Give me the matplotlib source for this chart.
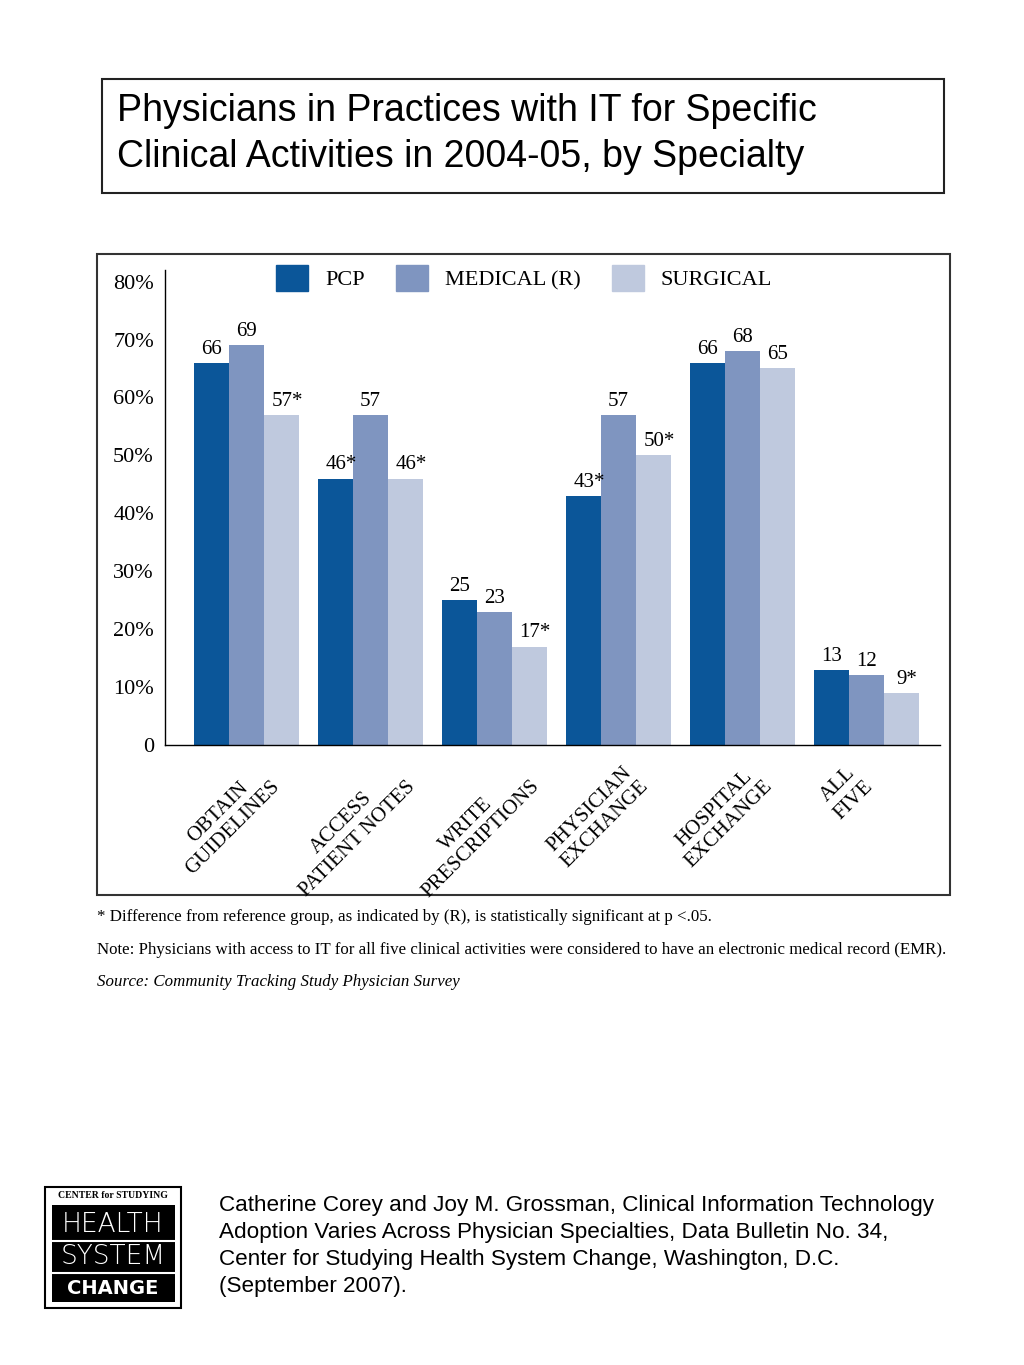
import matplotlib
matplotlib.use("Agg")
import matplotlib.pyplot as plt
from matplotlib.patches import Rectangle, Patch
import numpy as np

# data
categories = ["Obtain\nGuidelines", "Access\nPatient Notes", "Write\nPrescriptions",
              "Physician\nExchange", "Hospital\nExchange", "All\nFive"]
series_names = ["PCP", "MEDICAL (R)", "SURGICAL"]
pcp = [66, 46, 25, 43, 66, 13]
medical = [69, 57, 23, 57, 68, 12]
surgical = [57, 46, 17, 50, 65, 9]
sig_pcp = [False, True, False, True, False, False]
sig_medical = [False, False, False, False, False, False]
sig_surgical = [True, True, True, True, False, True]
yticks = [0, 10, 20, 30, 40, 50, 60, 70, 80]
ytick_labels = ["0", "10%", "20%", "30%", "40%", "50%", "60%", "70%", "80%"]

colors = ["#0b5699", "#7f95c0", "#bfc9de"]
serif = "Liberation Serif"
sans = "Liberation Sans"

W, H = 1024, 1365
fig = plt.figure(figsize=(W / 100, H / 100), dpi=100)

# background axes in pixel coords for boxes, texts, logo
bg = fig.add_axes([0, 0, 1, 1])
bg.set_xlim(0, W)
bg.set_ylim(H, 0)
bg.axis("off")

# title box
bg.add_patch(Rectangle((102, 79), 842, 114, fill=False, ec="#222222", lw=1.5))
bg.text(117, 111, "Physicians in Practices with IT for Specific", family=sans,
        fontsize=27, va="center", ha="left")
bg.text(117, 157, "Clinical Activities in 2004-05, by Specialty", family=sans,
        fontsize=27, va="center", ha="left")

# chart box
bg.add_patch(Rectangle((97, 254), 853, 641, fill=False, ec="#333333", lw=1.5))

# chart axes
ax = fig.add_axes([165 / W, 1 - 745 / H, 775 / W, 475 / H])
ax.set_facecolor("none")
step = 124 / 35
x = np.arange(len(categories)) * step
for j, (vals, sig) in enumerate(zip([pcp, medical, surgical],
                                    [sig_pcp, sig_medical, sig_surgical])):
    ax.bar(x + j, vals, width=1, align="edge", color=colors[j], zorder=2)
    for xi, v, s in zip(x + j + 0.5, vals, sig):
        ax.annotate(f"{v}*" if s else f"{v}", (xi, v), xytext=(4 if s else 0, 3),
                    textcoords="offset points", ha="center", va="bottom",
                    family=serif, fontsize=15)

ax.set_xlim(-0.83, 21.31)
ax.set_ylim(0, 82)
for sp in ["top", "right"]:
    ax.spines[sp].set_visible(False)
ax.spines["left"].set_linewidth(1)
ax.spines["bottom"].set_linewidth(1)
ax.set_yticks(yticks, ytick_labels, family=serif, fontsize=16)
ax.tick_params(axis="y", length=0, pad=8)
ax.set_xticks(x + 1.5 - 0.6, [c.upper() for c in categories], family=serif,
              fontsize=15, rotation=45, ha="center", va="top")
ax.tick_params(axis="x", length=0, pad=12)
for lbl in ax.get_xticklabels():
    lbl.set_multialignment("center")

handles = [Patch(color=c) for c in colors]
leg = ax.legend(handles, series_names, ncol=3, frameon=False,
                loc="upper left", bbox_to_anchor=((276 - 165) / 775, 1 + 5 / 475),
                borderpad=0, borderaxespad=0, handlelength=1.44, handleheight=1.44,
                handletextpad=0.77, columnspacing=1.4,
                prop={"family": serif, "size": 16})

# footnotes
notes = ["* Difference from reference group, as indicated by (R), is statistically significant at p <.05.",
         "Note: Physicians with access to IT for all five clinical activities were considered to have an electronic medical record (EMR).",
         "Source: Community Tracking Study Physician Survey"]
note_styles = ["normal", "normal", "italic"]
for i, (line, st) in enumerate(zip(notes, note_styles)):
    bg.text(97, 921 + 32.5 * i, line, family=serif, fontsize=12.2, style=st,
            va="baseline")

# citation
cite = ["Catherine Corey and Joy M. Grossman, Clinical Information Technology",
        "Adoption Varies Across Physician Specialties, Data Bulletin No. 34,",
        "Center for Studying Health System Change, Washington, D.C.",
        "(September 2007)."]
for i, line in enumerate(cite):
    bg.text(219, 1211 + 27 * i, line, family=sans, fontsize=16.2, va="baseline")

# logo
bg.add_patch(Rectangle((45, 1187), 136, 121, fc="white", ec="black", lw=1.5))
bg.text(113, 1196, "CENTER for STUDYING", family=serif, fontsize=7, weight="bold",
        ha="center", va="center")
bg.add_patch(Rectangle((52, 1205), 123, 97, fc="black", ec="none"))
bg.plot([52, 175], [1241, 1241], color="white", lw=1.5)
bg.plot([52, 175], [1273, 1273], color="white", lw=1.5)
bg.text(113, 1224, "HEALTH", family="DejaVu Sans", weight=200, fontsize=19,
        color="white", ha="center", va="center")
bg.text(113, 1257, "SYSTEM", family="DejaVu Sans", weight=200, fontsize=19,
        color="white", ha="center", va="center")
bg.text(113, 1289, "CHANGE", family="DejaVu Sans", weight="bold", fontsize=14,
        color="white", ha="center", va="center")

fig.savefig("out.png", dpi=100)
